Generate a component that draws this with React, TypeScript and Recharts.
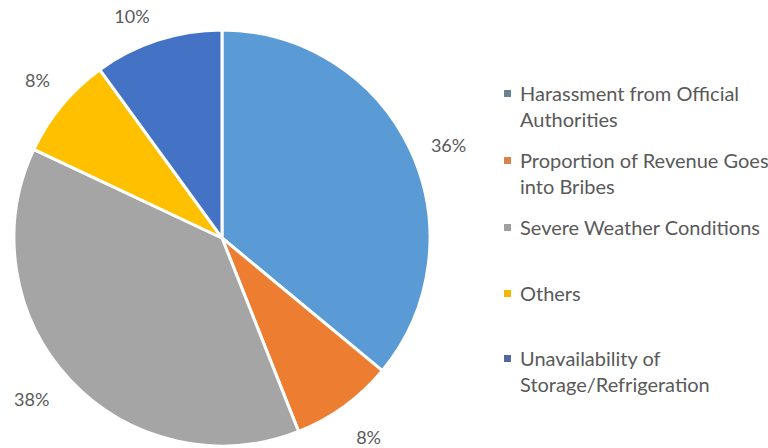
import React from "react";
import { PieChart, Pie, Cell } from "recharts";

const CATEGORIES = [
  "Harassment from Official Authorities",
  "Proportion of Revenue Goes into Bribes",
  "Severe Weather Conditions",
  "Others",
  "Unavailability of Storage/Refrigeration",
];
const VALUES = [36, 8, 38, 8, 10];
const SLICE_COLORS = ["#5B9BD5", "#ED7D31", "#A5A5A5", "#FFC000", "#4472C4"];
const LEGEND_COLORS = ["#6b8190", "#d9824e", "#a0a0a0", "#f5b800", "#55679f"];
// legend labels wrap the way the original does
const LEGEND_LINES = [
  ["Harassment from Official", "Authorities"],
  ["Proportion of Revenue Goes", "into Bribes"],
  ["Severe Weather Conditions"],
  ["Others"],
  ["Unavailability of", "Storage/Refrigeration"],
];

const data = CATEGORIES.map((name, i) => ({ name, value: VALUES[i] }));

const TEXT = "#595959";
const FONT = "Lato, 'Open Sans', sans-serif";
const RAD = Math.PI / 180;
// small best-fit nudges for the outside labels, like Excel does
const LABEL_NUDGE = [[4, 12], [2, 0], [-11, -7], [5, -1], [-14, 12]];

function renderLabel(props: any) {
  const { cx, cy, midAngle, outerRadius, value, index } = props;
  const r = outerRadius + 38;
  const [dx, dy] = LABEL_NUDGE[index] || [0, 0];
  const x = cx + r * Math.cos(-midAngle * RAD) + dx;
  const y = cy + r * Math.sin(-midAngle * RAD) + dy;
  return (
    <text x={x} y={y} fill={TEXT} fontSize={18} fontFamily={FONT}
      textAnchor="middle" dominantBaseline="central">
      {`${value}%`}
    </text>
  );
}

export default function App() {
  return (
    <div style={{ position: "absolute", left: 0, top: 0, width: 768, height: 448, background: "#fff", fontFamily: FONT }}>
      <PieChart width={768} height={448} margin={{ top: 0, right: 0, bottom: 0, left: 0 }}>
        <Pie
          data={data}
          dataKey="value"
          nameKey="name"
          cx={222}
          cy={238}
          outerRadius={208}
          startAngle={90}
          endAngle={-270}
          stroke="#fff"
          strokeWidth={3}
          label={renderLabel}
          labelLine={false}
          isAnimationActive={false}
        >
          {data.map((_, i) => (
            <Cell key={i} fill={SLICE_COLORS[i]} />
          ))}
        </Pie>
      </PieChart>

      {/* legend */}
      {LEGEND_LINES.map((lines, i) => (
        <div key={i} style={{ position: "absolute", left: 504, top: [80, 147, 214, 280, 345][i], color: TEXT, fontSize: 20, lineHeight: "26px" }}>
          <span style={{ position: "absolute", left: 0, top: 10, width: 7, height: 7, background: LEGEND_COLORS[i] }} />
          <div style={{ marginLeft: 16, whiteSpace: "nowrap" }}>
            {lines.map((l, j) => <div key={j}>{l}</div>)}
          </div>
        </div>
      ))}
    </div>
  );
}
